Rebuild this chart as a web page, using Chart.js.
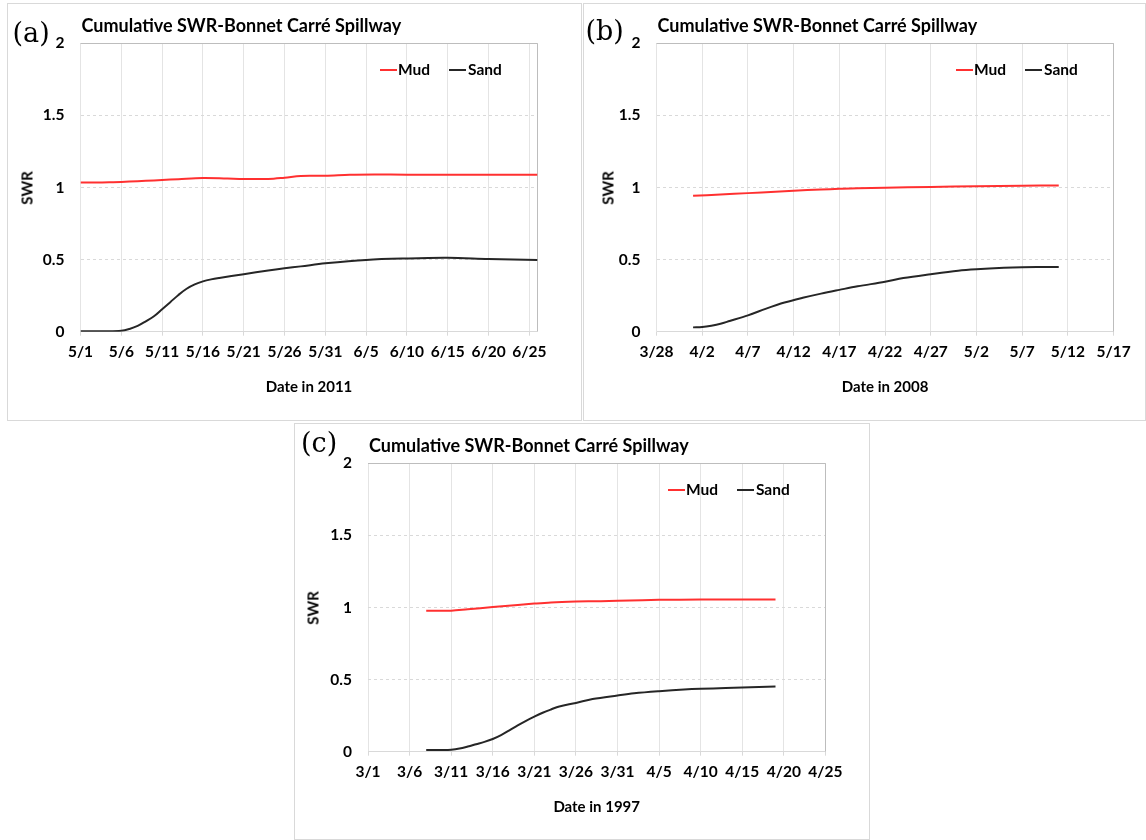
<!DOCTYPE html>
<html><head><meta charset="utf-8">
<script src="https://cdn.jsdelivr.net/npm/chart.js@4.4.1/dist/chart.umd.min.js"></script>
<style>
html,body{margin:0;padding:0;background:#fff;}
#page{position:relative;width:1146px;height:840px;overflow:hidden;font-family:Lato,sans-serif;}
.box{position:absolute;border:1px solid #d9d9d9;box-sizing:border-box;}
canvas{position:absolute;}
.t{position:absolute;white-space:nowrap;line-height:1;color:#000;font-weight:bold;}
.lab{position:absolute;white-space:nowrap;line-height:1;color:#000;font-family:"DejaVu Serif",serif;font-size:27px;}
.ln{position:absolute;height:2px;width:17px;}
</style></head><body><div id="page"></div>
<script>
// ---------- DATA ----------
const chartTitle = 'Cumulative SWR-Bonnet Carré Spillway';
const seriesNames = ['Mud', 'Sand'];
const yTickLabels = ['0', '0.5', '1', '1.5', '2'];

// (a) 2011, day offsets from 5/1
const xTicksA = ['5/1','5/6','5/11','5/16','5/21','5/26','5/31','6/5','6/10','6/15','6/20','6/25'];
const xMaxA = 56;
const mudDaysA = [0,2,4,6,8,10,12,15,18,20,23,25,27,30,33,36,40,45,50,56];
const mudA     = [1.035,1.034,1.037,1.041,1.046,1.052,1.058,1.066,1.062,1.059,1.059,1.068,1.080,1.081,1.088,1.090,1.089,1.088,1.088,1.089];
const sandDaysA = [0,3,5,6,7,8,9,10,11,12,13,14,15,16,17,20,23,25,27,30,35,40,45,50,56];
const sandA     = [0.003,0.003,0.006,0.019,0.040,0.072,0.107,0.156,0.205,0.255,0.298,0.328,0.349,0.363,0.373,0.399,0.425,0.440,0.453,0.474,0.498,0.508,0.512,0.504,0.497];

// (b) 2008, day offsets from 3/28
const xTicksB = ['3/28','4/2','4/7','4/12','4/17','4/22','4/27','5/2','5/7','5/12','5/17'];
const xMaxB = 50;
const mudDaysB = [4,7,10,13,15,18,20,22,25,30,35,40,44];
const mudB     = [0.942,0.951,0.961,0.971,0.978,0.986,0.991,0.995,0.998,1.004,1.009,1.013,1.014];
const sandDaysB = [4,5,6,7,8,10,12,14,16,18,20,22,25,27,30,33,35,38,40,42,44];
const sandB     = [0.030,0.033,0.042,0.055,0.074,0.113,0.160,0.202,0.235,0.264,0.290,0.315,0.346,0.372,0.399,0.423,0.433,0.443,0.447,0.448,0.448];

// (c) 1997, day offsets from 3/1
const xTicksC = ['3/1','3/6','3/11','3/16','3/21','3/26','3/31','4/5','4/10','4/15','4/20','4/25'];
const xMaxC = 55;
const mudDaysC = [7,10,12,15,18,20,22,25,28,30,33,35,40,45,49];
const mudC     = [0.977,0.978,0.988,1.003,1.017,1.027,1.035,1.041,1.044,1.047,1.051,1.053,1.055,1.055,1.055];
const sandDaysC = [7,9,10,11,12,13,14,15,16,17,18,19,20,21,22,23,25,27,30,32,35,38,40,43,45,49];
const sandC     = [0.012,0.012,0.014,0.022,0.036,0.052,0.068,0.088,0.115,0.148,0.182,0.214,0.243,0.270,0.293,0.314,0.338,0.365,0.390,0.405,0.420,0.432,0.437,0.441,0.445,0.452];

// ---------- LAYOUT ----------
const panels = [
  {tag:'(a)', xTitle:'Date in 2011', xTicks:xTicksA, xMax:xMaxA, mudDays:mudDaysA, mud:mudA, sandDays:sandDaysA, sand:sandA,
   box:[7,3,575,418], area:[80.5,43.3,537.5,331.7], tagPos:[12.5,32], swrX:26.6},
  {tag:'(b)', xTitle:'Date in 2008', xTicks:xTicksB, xMax:xMaxB, mudDays:mudDaysB, mud:mudB, sandDays:sandDaysB, sand:sandB,
   box:[583,3,563,418], area:[656.5,43.3,1113.6,331.7], tagPos:[585.5,30], swrX:607.8},
  {tag:'(c)', xTitle:'Date in 1997', xTicks:xTicksC, xMax:xMaxC, mudDays:mudDaysC, mud:mudC, sandDays:sandDaysC, sand:sandC,
   box:[294,423,576,417], area:[368,463.3,825.4,751.7], tagPos:[301,441.5], swrX:313.3}
];

const page = document.getElementById('page');
function addText(cls, txt, x, y, css, tf) {
  const d = document.createElement('div');
  d.className = cls; d.textContent = txt;
  d.style.left = x + 'px'; d.style.top = y + 'px';
  d.style.transform = tf;
  Object.assign(d.style, css || {});
  page.appendChild(d);
  return d;
}
function addLine(x, y, color) {
  const d = document.createElement('div');
  d.className = 'ln'; d.style.left = x + 'px'; d.style.top = (y - 1) + 'px'; d.style.background = color;
  page.appendChild(d);
}

const framePlugin = {
  id: 'frame',
  beforeDatasetsDraw(chart) {
    const {ctx, chartArea: a} = chart;
    const al = v => Math.round(v - 0.5) + 0.5;
    ctx.save();
    ctx.lineWidth = 1;
    ctx.strokeStyle = '#bdbdbd';
    ctx.beginPath();
    ctx.moveTo(al(a.left), al(a.top)); ctx.lineTo(al(a.right), al(a.top));
    ctx.lineTo(al(a.right), al(a.bottom));
    ctx.stroke();
    ctx.restore();
  }
};

const MUD_COLOR = '#ff3030', SAND_COLOR = '#262626';
const tickFont = {family: 'Lato', size: 15.5, weight: 'bold'};

panels.forEach(p => {
  const [bx, by, bw, bh] = p.box;
  const [L, T, R, B] = p.area;
  const XH = 40;
  const box = document.createElement('div'); box.className = 'box';
  Object.assign(box.style, {left: bx + 'px', top: by + 'px', width: bw + 'px', height: bh + 'px'});
  page.appendChild(box);
  const cv = document.createElement('canvas');
  cv.width = bw; cv.height = bh;
  Object.assign(cv.style, {left: bx + 'px', top: by + 'px', width: bw + 'px', height: bh + 'px'});
  page.appendChild(cv);

  new Chart(cv, {
    type: 'line',
    data: {datasets: [
      {label: seriesNames[0], data: p.mudDays.map((d, i) => ({x: d, y: p.mud[i]})),
       borderColor: MUD_COLOR, borderWidth: 2, pointRadius: 0, tension: 0.35, fill: false},
      {label: seriesNames[1], data: p.sandDays.map((d, i) => ({x: d, y: p.sand[i]})),
       borderColor: SAND_COLOR, borderWidth: 2, pointRadius: 0, tension: 0.35, fill: false}
    ]},
    options: {
      responsive: false, animation: false, events: [],
      layout: {padding: {left: 0, top: T - by, right: (bx + bw) - R, bottom: (by + bh) - B - XH}},
      plugins: {legend: {display: false}, tooltip: {enabled: false}, title: {display: false}},
      scales: {
        x: {
          type: 'linear', min: 0, max: p.xMax,
          afterBuildTicks: s => { s.ticks = p.xTicks.map((_, i) => ({value: i * 5})); },
          afterFit: s => { s.height = XH; },
          ticks: {callback: (v, i) => p.xTicks[i], autoSkip: false, maxRotation: 0, minRotation: 0,
                  padding: 7, color: '#000', font: tickFont},
          grid: {color: '#e4e4e4', lineWidth: 1, drawTicks: true, tickLength: 4, tickColor: '#d9d9d9'},
          border: {display: false}
        },
        y: {
          min: 0, max: 2,
          afterBuildTicks: s => { s.ticks = yTickLabels.map((_, i) => ({value: i * 0.5})); },
          afterFit: s => { s.width = L - bx; },
          ticks: {callback: (v, i) => yTickLabels[i], padding: 16, color: '#000', font: tickFont},
          grid: {color: c => (c.tick && c.tick.value === 2) ? '#bdbdbd' : '#d9d9d9', drawTicks: false, lineWidth: 1},
          border: {display: false, dash: c => (c.tick && c.tick.value > 0 && c.tick.value < 2) ? [3, 3] : []}
        }
      }
    },
    plugins: [framePlugin]
  });

  // texts
  addText('lab', p.tag, p.tagPos[0], p.tagPos[1], {}, 'translate(0,-50%)');
  addText('t', chartTitle, L + 1, T - 18.8, {fontSize: '18px'}, 'translate(0,-50%)');
  addText('t', p.xTitle, (L + R) / 2, B + 54, {fontSize: '15px'}, 'translate(-50%,-50%)');
  addText('t', 'SWR', p.swrX, (T + B) / 2, {fontSize: '15px'}, 'translate(-50%,-50%) rotate(-90deg)');
  // legend
  const ly = T + 26.5;
  addLine(R - 157.5, ly, MUD_COLOR);
  addText('t', seriesNames[0], R - 139.5, ly, {fontSize: '15.5px'}, 'translate(0,-50%)');
  addLine(R - 88.5, ly, SAND_COLOR);
  addText('t', seriesNames[1], R - 69.5, ly, {fontSize: '15.5px'}, 'translate(0,-50%)');
});
</script>
</body></html>
